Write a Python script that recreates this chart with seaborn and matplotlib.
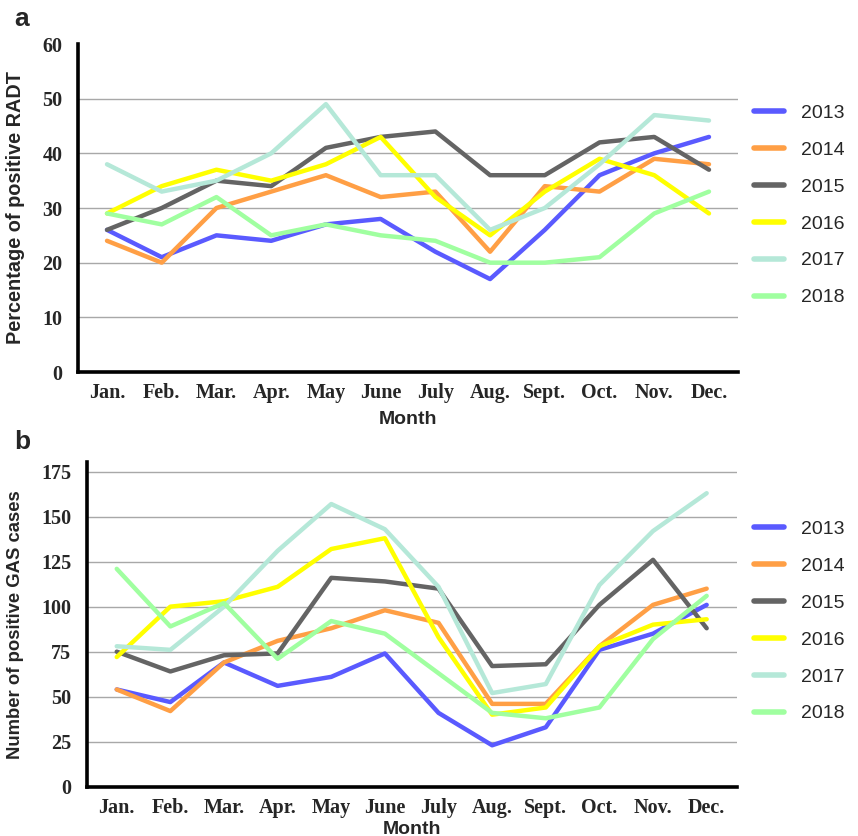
import pandas as pd
import matplotlib
matplotlib.use("Agg")
import matplotlib.pyplot as plt
import seaborn as sns

# month labels and year series
months = ["Jan.", "Feb.", "Mar.", "Apr.", "May", "June",
          "July", "Aug.", "Sept.", "Oct.", "Nov.", "Dec."]
years = ["2013", "2014", "2015", "2016", "2017", "2018"]

# panel a: percentage of positive RADT
radt_2013 = [26, 21, 25, 24, 27, 28, 22, 17, 26, 36, 40, 43]
radt_2014 = [24, 20, 30, 33, 36, 32, 33, 22, 34, 33, 39, 38]
radt_2015 = [26, 30, 35, 34, 41, 43, 44, 36, 36, 42, 43, 37]
radt_2016 = [29, 34, 37, 35, 38, 43, 32, 25, 33, 39, 36, 29]
radt_2017 = [38, 33, 35, 40, 49, 36, 36, 26, 30, 38, 47, 46]
radt_2018 = [29, 27, 32, 25, 27, 25, 24, 20, 20, 21, 29, 33]

# panel b: number of positive GAS cases
gas_2013 = [54, 47, 69, 56, 61, 74, 41, 23, 33, 76, 85, 101]
gas_2014 = [54, 42, 69, 81, 88, 98, 91, 46, 46, 78, 101, 110]
gas_2015 = [75, 64, 73, 74, 116, 114, 110, 67, 68, 101, 126, 88]
gas_2016 = [72, 100, 103, 111, 132, 138, 83, 40, 44, 78, 90, 93]
gas_2017 = [78, 76, 100, 131, 157, 143, 111, 52, 57, 112, 142, 163]
gas_2018 = [121, 89, 102, 71, 92, 85, 63, 41, 38, 44, 82, 106]

colors = {"2013": "#5a5aff", "2014": "#ff9f45", "2015": "#646464",
          "2016": "#ffff00", "2017": "#b5e8d8", "2018": "#a0ffa0"}


def long_df(series):
    rows = []
    for yr, vals in zip(years, series):
        for i, v in enumerate(vals):
            rows.append({"Year": yr, "idx": i, "value": v})
    return pd.DataFrame(rows)


df_a = long_df([radt_2013, radt_2014, radt_2015, radt_2016, radt_2017, radt_2018])
df_b = long_df([gas_2013, gas_2014, gas_2015, gas_2016, gas_2017, gas_2018])

sns.set_style("white")
plt.rcParams["font.family"] = ["Liberation Sans", "DejaVu Sans"]

fig = plt.figure(figsize=(8.58, 8.36), dpi=100)
ax1 = fig.add_axes([78 / 858, 1 - 372 / 836, 660 / 858, 328 / 836])
ax2 = fig.add_axes([86.7 / 858, 1 - 786.7 / 836, 650 / 858, 325 / 836])


def style(ax, df, ymax, yticks, ylabel, ylsize, labx, xmin, xmax, legy, xlpad):
    sns.lineplot(data=df, x="idx", y="value", hue="Year", palette=colors,
                 lw=3.2, ax=ax, legend=True)
    ax.set_xlim(xmin, xmax)
    ax.set_ylim(0, ymax)
    ax.set_yticks(yticks)
    ax.set_xticks(range(12))
    ax.set_xticklabels(months)
    for lab in ax.get_xticklabels() + ax.get_yticklabels():
        lab.set_family(["Liberation Serif", "DejaVu Serif"])
        lab.set_fontweight("bold")
        lab.set_fontsize(14.5)
    ax.tick_params(axis="y", direction="out", length=8, width=2.4, pad=3)
    ax.tick_params(axis="x", length=0, pad=8)
    ax.yaxis.grid(True, color="#a8a8a8", lw=1)
    ax.set_axisbelow(True)
    for s in ["top", "right"]:
        ax.spines[s].set_visible(False)
    for s in ["left", "bottom"]:
        ax.spines[s].set_linewidth(2.6)
        ax.spines[s].set_color("black")
    ax.set_xlabel("Month", fontsize=14, fontweight="bold", labelpad=xlpad)
    ax.set_ylabel(ylabel, fontsize=ylsize, fontweight="bold")
    ax.yaxis.set_label_coords(labx, 0.5)
    leg = ax.legend(loc="center left", bbox_to_anchor=(754 / 858, legy),
                    bbox_transform=fig.transFigure, frameon=False,
                    fontsize=14, handlelength=1.55, handletextpad=0.88,
                    labelspacing=0.99, borderpad=0, borderaxespad=0)
    for h in leg.get_lines():
        h.set_linewidth(4)


style(ax1, df_a, 60, [0, 10, 20, 30, 40, 50, 60], "Percentage of positive RADT",
      14.3, -0.08, -0.53, 11.53, 1 - 205.4 / 836, 6)
ax1.get_ygridlines()[-1].set_visible(False)

style(ax2, df_b, 180.5, [0, 25, 50, 75, 100, 125, 150, 175],
      "Number of positive GAS cases", 13.3, -0.0965, -0.56, 11.56,
      1 - 621.5 / 836, 2)

fig.text(14 / 858, 1 - 19 / 836, "a", fontsize=19, fontweight="bold", va="center")
fig.text(14 / 858, 1 - 442 / 836, "b", fontsize=19, fontweight="bold", va="center")

fig.savefig("out.png", dpi=100)
